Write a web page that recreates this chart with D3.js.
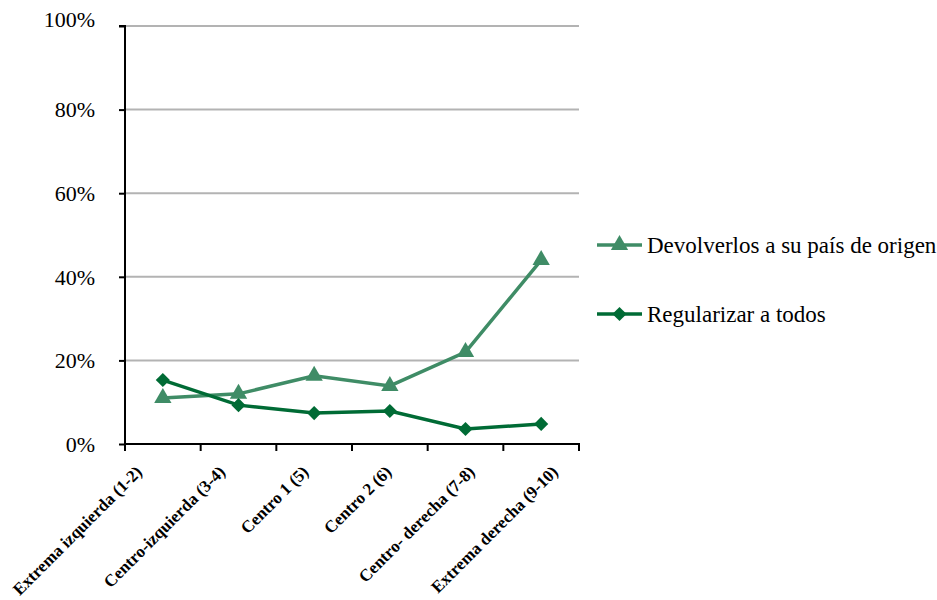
<!DOCTYPE html>
<html><head><meta charset="utf-8">
<script src="https://cdn.jsdelivr.net/npm/d3@7"></script>
<style>body{margin:0;background:#fff}</style>
</head><body>
<svg id="chart" width="937" height="600"></svg>
<script>
const categories = ["Extrema izquierda (1-2)","Centro-izquierda (3-4)","Centro 1 (5)","Centro 2 (6)","Centro- derecha (7-8)","Extrema derecha (9-10)"];
const devolverlos = [11.0, 12.0, 16.3, 13.9, 22.0, 44.0];
const regularizar = [15.3, 9.3, 7.4, 7.9, 3.6, 4.8];
const yTicks = [0, 20, 40, 60, 80, 100];
const seriesNames = ["Devolverlos a su país de origen", "Regularizar a todos"];
const seriesColors = ["#3f8c66", "#006b35"];

(function(){
const FONT = "'Liberation Serif', 'Times New Roman', serif";
const svg = d3.select("#chart");
const pL = 125, pR = 579, pT = 26, pB = 444;
const x = d3.scaleBand().domain(categories).range([pL, pR]).padding(0);
const y = d3.scaleLinear().domain([0, 100]).range([pB, pT]);
const xLab = d3.scalePoint().domain(categories).range([143, 559]);

// gridlines
svg.append("g").selectAll("line").data(yTicks.filter(d => d > 0)).join("line")
  .attr("x1", pL).attr("x2", pR)
  .attr("y1", d => y(d)).attr("y2", d => y(d))
  .attr("stroke", "#b3b3b3").attr("stroke-width", 2);

// y axis
const yAxis = d3.axisLeft(y).tickValues(yTicks).tickSize(6).tickFormat(d => d + "%");
const gy = svg.append("g").attr("transform", `translate(${pL},0)`).call(yAxis);
gy.select(".domain").attr("stroke", "#000").attr("stroke-width", 2).attr("d", `M-6,${pT}H0V${pB}`);
gy.selectAll(".tick line").attr("stroke", "#000").attr("stroke-width", 2);
gy.selectAll(".tick text").style("font-family", FONT)
  .style("font-size", "22px").attr("fill", "#000").attr("x", -30)
  .attr("dy", d => d === 100 ? "0em" : "0.33em");

// x axis
const gx = svg.append("g").attr("transform", `translate(0,${pB})`);
gx.append("line").attr("x1", pL - 1).attr("x2", pR + 1).attr("y1", 0).attr("y2", 0)
  .attr("stroke", "#000").attr("stroke-width", 2);
const boundaries = categories.map(c => x(c)).concat([pR]);
gx.selectAll("line.tk").data(boundaries).join("line").attr("class", "tk")
  .attr("x1", d => d).attr("x2", d => d).attr("y1", 0).attr("y2", 7)
  .attr("stroke", "#000").attr("stroke-width", 2);
gx.selectAll("text").data(categories).join("text")
  .attr("transform", d => `translate(${xLab(d)},${29}) rotate(-45)`)
  .attr("text-anchor", "end")
  .style("font-family", FONT)
  .style("font-weight", "bold").style("font-size", "17px").attr("fill", "#000")
  .text(d => d);

// lines
const cx = d => x(d) + x.bandwidth()/2;
const lineGen = d3.line().x(d => cx(d.c)).y(d => y(d.v));
const data1 = categories.map((c, i) => ({c, v: devolverlos[i]}));
const data2 = categories.map((c, i) => ({c, v: regularizar[i]}));

svg.append("path").datum(data1).attr("d", lineGen).attr("fill", "none")
  .attr("stroke", seriesColors[0]).attr("stroke-width", 3.5);
svg.append("path").datum(data2).attr("d", lineGen).attr("fill", "none")
  .attr("stroke", seriesColors[1]).attr("stroke-width", 3.5);

const tri = d3.symbol().type(d3.symbolTriangle).size(130);
const dia = d3.symbol().type(d3.symbolSquare).size(100);
svg.append("g").selectAll("path").data(data1).join("path")
  .attr("d", tri).attr("transform", d => `translate(${cx(d.c)},${y(d.v)})`)
  .attr("fill", seriesColors[0]);
svg.append("g").selectAll("path").data(data2).join("path")
  .attr("d", dia).attr("transform", d => `translate(${cx(d.c)},${y(d.v)}) rotate(45)`)
  .attr("fill", seriesColors[1]);

// legend
const legY = [245, 314];
const lg = svg.append("g");
seriesNames.forEach((name, i) => {
  lg.append("line").attr("x1", 597).attr("x2", 642).attr("y1", legY[i]).attr("y2", legY[i])
    .attr("stroke", seriesColors[i]).attr("stroke-width", 3.5);
  lg.append("path").attr("d", i === 0 ? tri() : dia())
    .attr("transform", `translate(619.5,${legY[i]})` + (i === 1 ? " rotate(45)" : ""))
    .attr("fill", seriesColors[i]);
  lg.append("text").attr("x", 647).attr("y", legY[i] + 8)
    .style("font-family", FONT)
    .style("font-size", "23px").attr("fill", "#000").text(name);
});
})();
</script>
</body></html>
